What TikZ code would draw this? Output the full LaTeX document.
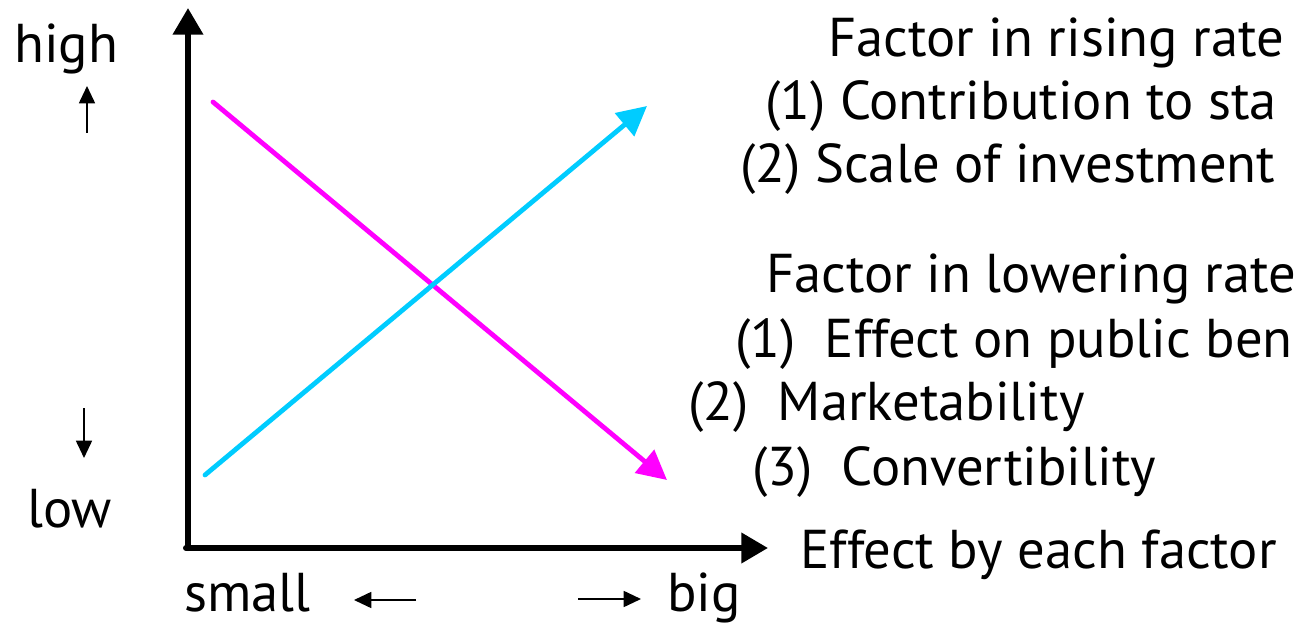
\documentclass[tikz,border=0pt]{standalone}
\usepackage{fontspec}
\setmainfont{PT Sans}
\usetikzlibrary{arrows.meta}
\usepackage{xcolor}
\definecolor{rateCyan}{RGB}{0,204,255}
\definecolor{rateMagenta}{RGB}{255,0,255}

\tikzset{
  axisline/.style={line width=4.5pt, line cap=round, -{Triangle[length=20pt,width=22pt]}},
  rateline/.style={line width=3.6pt, line cap=round, -{Triangle[length=22pt,width=22pt]}},
  hintarrow/.style={line width=1.3pt, -{Triangle[length=13pt,width=12pt]}},
  lbl/.style={anchor=base west, inner sep=0pt, font=\fontsize{41}{50}\selectfont}
}

\begin{document}
\begin{tikzpicture}[x=0.75pt,y=0.75pt,yscale=-1,xscale=1]
\useasboundingbox (0,0) rectangle (1303,627);
\clip (0,0) rectangle (1303,627);

%Axes
\coordinate (origin) at (188,548);
\coordinate (ytip) at (188,8);
\coordinate (xtip) at (768,548);
\draw [axisline] (origin) -- (ytip);
\draw [axisline] (186,548) -- (xtip);

%Rate lines
\coordinate (mstart) at (213,102);
\coordinate (mend) at (667,480);
\coordinate (cstart) at (205,475);
\coordinate (cend) at (647,106);
\draw [rateline, color=rateMagenta] (mstart) -- (mend);
\draw [rateline, color=rateCyan] (cstart) -- (cend);

% Text Node
\node [lbl] (high) at (14,63) {high};
\node [lbl] (low) at (27,527) {low};
\node [lbl] (small) at (184,611) {small};
\node [lbl] (big) at (667,611) {big};
\node [lbl] (effect) at (800,568) {Effect by each factor};

%Hint arrows
\coordinate (upfoot) at (87,133);
\coordinate (uptip) at (87,86);
\coordinate (downfoot) at (84,408);
\coordinate (downtip) at (84,458);
\coordinate (leftfoot) at (416,600);
\coordinate (lefttip) at (354,600);
\coordinate (rightfoot) at (578,599);
\coordinate (righttip) at (641,599);
\draw [hintarrow] (upfoot) -- (uptip);
\draw [hintarrow] (downfoot) -- (downtip);
\draw [hintarrow] (leftfoot) -- (lefttip);
\draw [hintarrow] (rightfoot) -- (righttip);

% Text Node
\node [lbl] (rise) at (828,57) {Factor in rising rate};
\node [lbl] (rise1) at (765,120) {(1) Contribution to sta};
\node [lbl] (rise2) at (740,183) {(2) Scale of investment};
\node [lbl] (lower) at (766,293) {Factor in lowering rate};
\node [lbl] (lower1) at (735,357) {(1)\ \ Effect on public ben};
\node [lbl] (lower2) at (688,420) {(2)\ \ Marketability};
\node [lbl] (lower3) at (752,485) {(3)\ \ Convertibility};

\end{tikzpicture}
\end{document}
